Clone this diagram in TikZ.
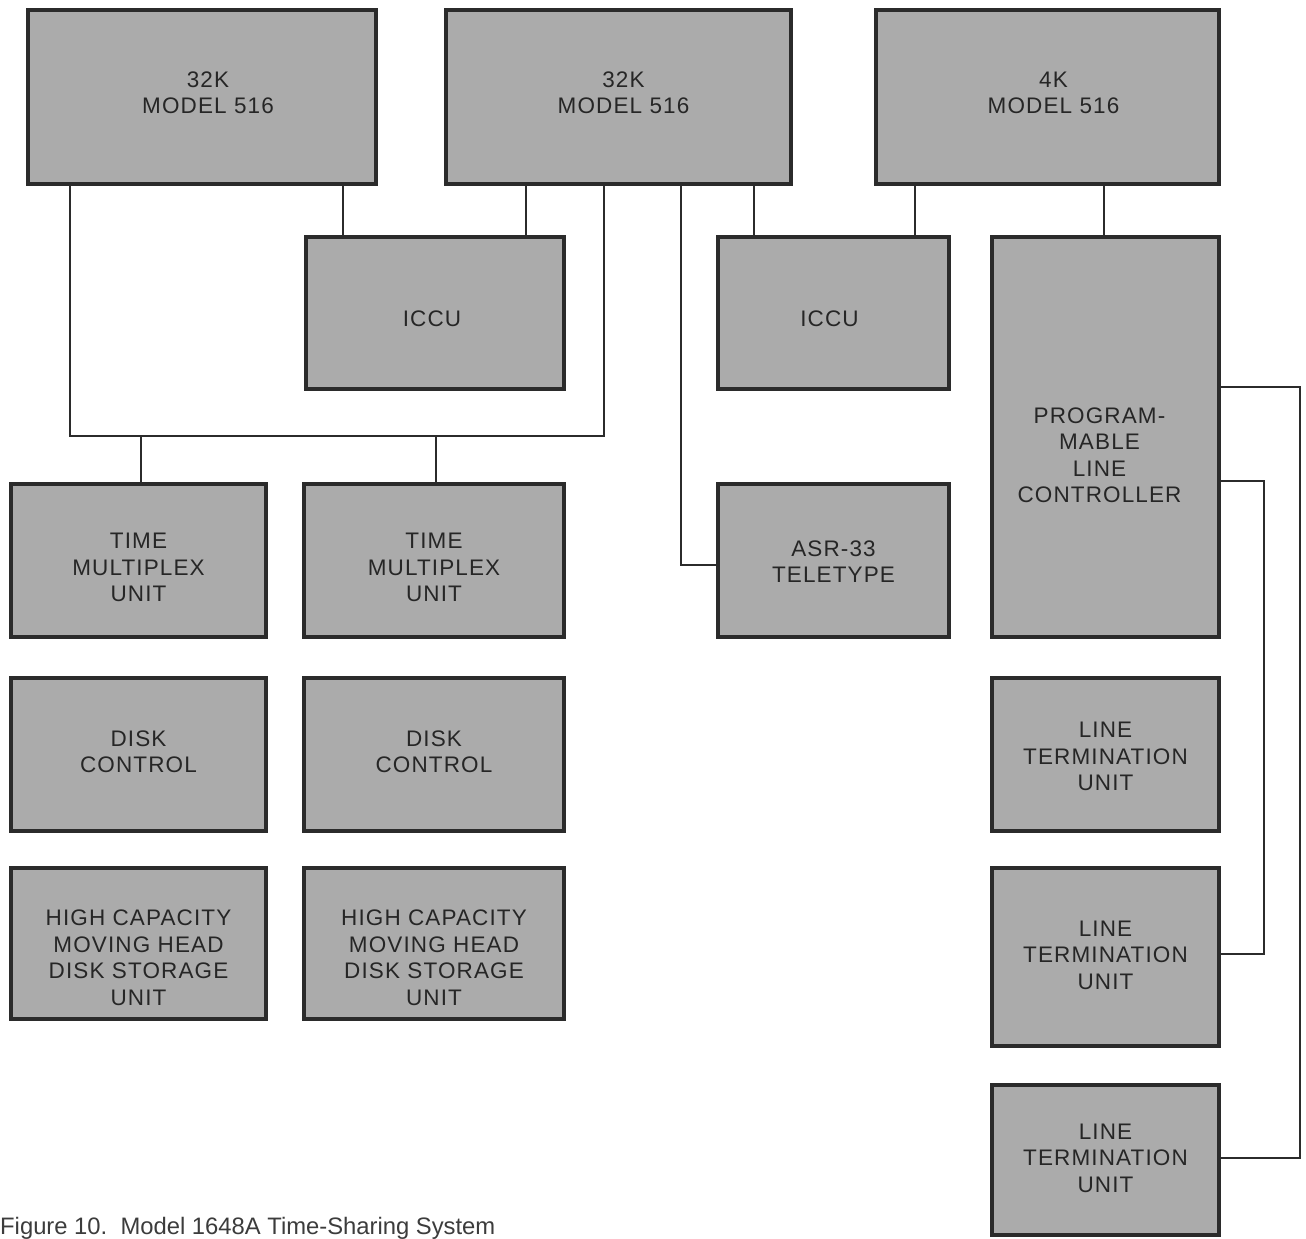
\documentclass[tikz,border=0pt]{standalone}
\usepackage{fontspec}
\setmainfont{Liberation Sans}
\newfontfamily\boxfont[LetterSpace=5]{Liberation Sans}
\usetikzlibrary{positioning}
\definecolor{boxgray}{HTML}{ABABAB}
\definecolor{edge}{HTML}{2B2B2B}
\definecolor{captxt}{HTML}{3C3C3C}
\tikzset{
  unit/.style={draw=edge, fill=boxgray, line width=3.6pt, inner sep=0pt, rectangle},
  lbl/.style={align=center, font=\boxfont\fontsize{22.5}{26.5}\selectfont, text=black!85, inner sep=0pt},
  wire/.style={draw=edge, line width=2.4pt, line join=miter},
}
\newcommand{\unitbox}[5]{% name, cx, cy, w, h
  \node[unit, minimum width=#4pt, minimum height=#5pt] (#1) at (#2,#3) {};}
\begin{document}
\begin{tikzpicture}[x=1pt,y=-1pt]
\useasboundingbox[fill=white] (0,0) rectangle (1306,1239);
% boxes
\unitbox{m1}{202}{97}{348}{174}
\unitbox{m2}{618.5}{97}{345}{174}
\unitbox{m3}{1047.5}{97}{343}{174}
\unitbox{i1}{435}{313}{258}{152}
\unitbox{i2}{833.5}{313}{231}{152}
\unitbox{plc}{1105.5}{437}{227}{400}
\unitbox{t1}{138.5}{560.5}{255}{153}
\unitbox{t2}{434}{560.5}{260}{153}
\unitbox{asr}{833.5}{560.5}{231}{153}
\unitbox{d1}{138.5}{754.5}{255}{153}
\unitbox{d2}{434}{754.5}{260}{153}
\unitbox{h1}{138.5}{943.5}{255}{151}
\unitbox{h2}{434}{943.5}{260}{151}
\unitbox{l1}{1105.5}{754.5}{227}{153}
\unitbox{l2}{1105.5}{957}{227}{178}
\unitbox{l3}{1105.5}{1160}{227}{150}
% labels
\node[lbl] (m1t) at ([xshift=6pt,yshift=4pt]m1.center) {32K\\MODEL 516};
\node[lbl] (m2t) at ([xshift=5pt,yshift=4pt]m2.center) {32K\\MODEL 516};
\node[lbl] (m3t) at ([xshift=6pt,yshift=4pt]m3.center) {4K\\MODEL 516};
\node[lbl] (i1t) at ([xshift=-3pt,yshift=-6pt]i1.center) {ICCU};
\node[lbl] (i2t) at ([xshift=-4pt,yshift=-6pt]i2.center) {ICCU};
\node[lbl] (plct) at ([xshift=-6pt,yshift=-18pt]plc.center) {PROGRAM-\\MABLE\\LINE\\CONTROLLER};
\node[lbl] (t1t) at ([yshift=-7pt]t1.center) {TIME\\MULTIPLEX\\UNIT};
\node[lbl] (t2t) at ([yshift=-7pt]t2.center) {TIME\\MULTIPLEX\\UNIT};
\node[lbl] (asrt) at ([yshift=-1pt]asr.center) {ASR-33\\TELETYPE};
\node[lbl] (d1t) at ([yshift=3pt]d1.center) {DISK\\CONTROL};
\node[lbl] (d2t) at ([yshift=3pt]d2.center) {DISK\\CONTROL};
\node[lbl] (h1t) at ([yshift=-14pt]h1.center) {HIGH CAPACITY\\MOVING HEAD\\DISK STORAGE\\UNIT};
\node[lbl] (h2t) at ([yshift=-14pt]h2.center) {HIGH CAPACITY\\MOVING HEAD\\DISK STORAGE\\UNIT};
\node[lbl] (l1t) at ([yshift=-2pt]l1.center) {LINE\\TERMINATION\\UNIT};
\node[lbl] (l2t) at ([yshift=2pt]l2.center) {LINE\\TERMINATION\\UNIT};
\node[lbl] (l3t) at ([yshift=2pt]l3.center) {LINE\\TERMINATION\\UNIT};
% connectors
\coordinate (busL) at (70,436);
\coordinate (busR) at (604,436);
\draw[wire] ([xshift=-132pt]m1.south) -- (busL) -- (busR) -- ([xshift=-14.5pt]m2.south);
\draw[wire] ([xshift=2.5pt]t1.north) -- ([xshift=2.5pt]t1.north |- busL);
\draw[wire] ([xshift=2pt]t2.north) -- ([xshift=2pt]t2.north |- busL);
\draw[wire] ([xshift=141pt]m1.south) -- ([xshift=141pt]m1.south |- i1.north);
\draw[wire] ([xshift=-92.5pt]m2.south) -- ([xshift=-92.5pt]m2.south |- i1.north);
\draw[wire] ([xshift=135.5pt]m2.south) -- ([xshift=135.5pt]m2.south |- i2.north);
\draw[wire] ([xshift=-132.5pt]m3.south) -- ([xshift=-132.5pt]m3.south |- i2.north);
\draw[wire] ([xshift=56.5pt]m3.south) -- ([xshift=56.5pt]m3.south |- plc.north);
\draw[wire] ([xshift=62.5pt]m2.south) |- ([yshift=-4.5pt]asr.west);
\draw[wire] ([yshift=50pt]plc.east) -- ++(79,0) |- ([yshift=2pt]l3.east);
\draw[wire] ([yshift=-44pt]plc.east) -- ++(43,0) |- ([yshift=3pt]l2.east);
% caption
\node[anchor=base west, inner sep=0pt, font=\fontsize{23.8}{26}\selectfont, text=captxt] (cap) at (0,1234) {Figure 10.\ \ Model 1648A Time-Sharing System};
\end{tikzpicture}
\end{document}
